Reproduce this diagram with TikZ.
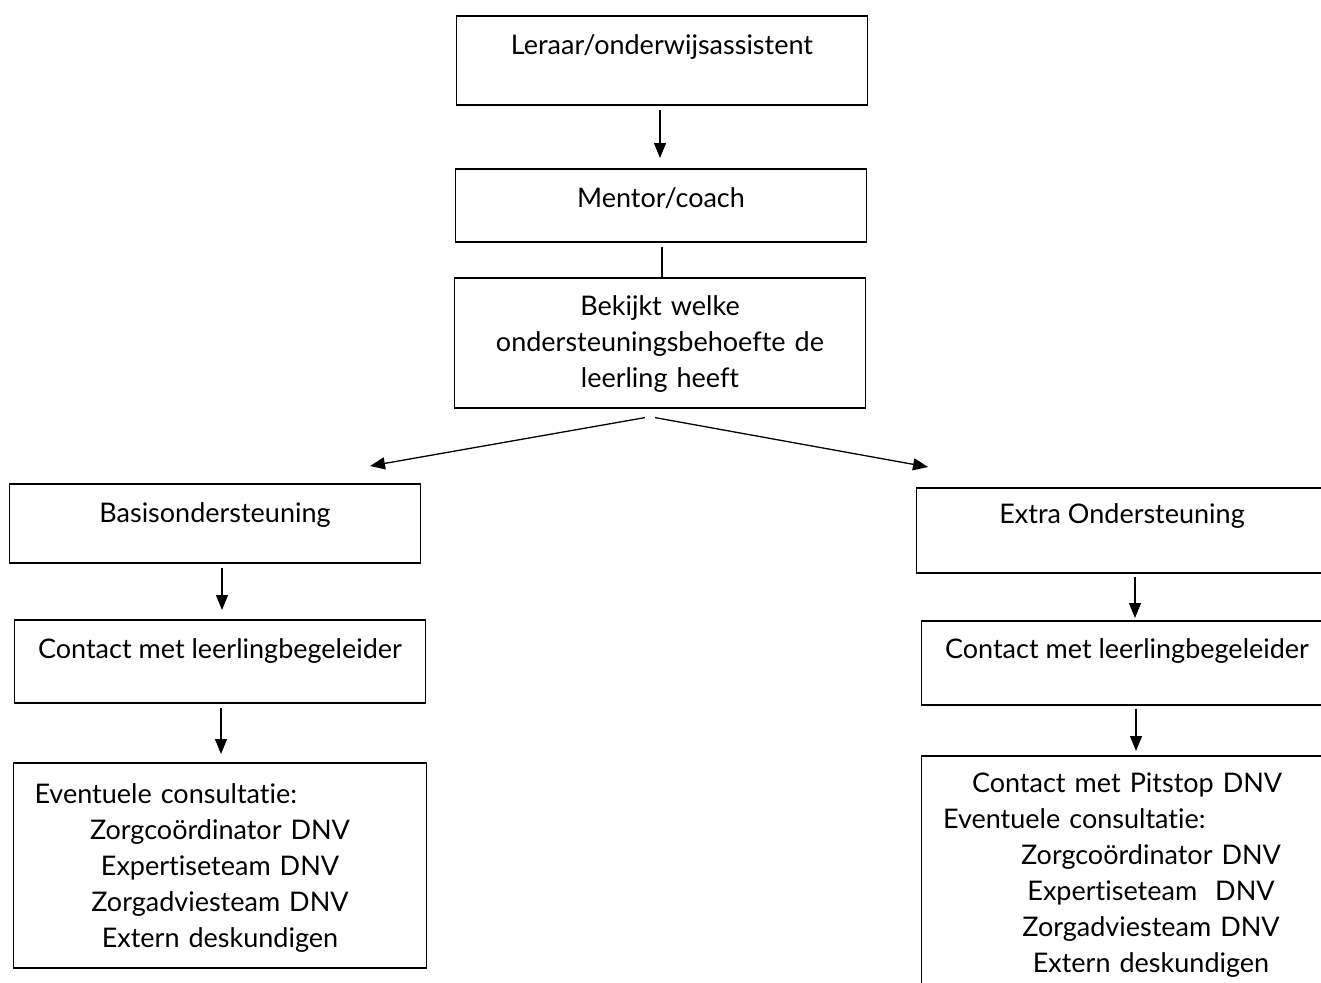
\documentclass[tikz,border=0pt]{standalone}
\usepackage{fontspec}
\setmainfont[Ligatures=NoCommon]{Lato}
\usepackage {tikz}
\usetikzlibrary {arrows.meta,calc}

\begin{document}
\begin{tikzpicture}[x=1pt,y=-1pt]
  \tikzstyle{box}=[draw, line width=1.6pt, inner sep=0pt, anchor=north,
minimum width=411pt, align=center, font=\fontsize{27pt}{36pt}\selectfont]
  \tikzstyle{arr}=[line width=1.3pt, -{Triangle[length=15pt,width=12pt]}]
  \useasboundingbox (0,0) rectangle (1321,982);
  \clip (0,0) rectangle (1321,982);
  \node[box, text height=39pt, text depth=50pt] (N_leraar) at (662,15) {Leraar/onderwijsassistent};
  \node[box, text height=39pt, text depth=34pt] (N_mentor) at (661,168) {Mentor/coach};
  \node[box, text width=411pt, text height=38pt, text depth=92pt] (N_bekijkt) at (660,277)
    {Bekijkt welke\\ ondersteuningsbehoefte de\\ leerling heeft};
  \node[box, text height=39pt, text depth=40pt] (N_basis) at (215,483) {Basisondersteuning};
  \node[box, text height=36pt, text depth=49pt] (N_extra) at (1122,487) {Extra Ondersteuning};
  \node[box, text height=39pt, text depth=44pt] (N_contact1) at (220,619) {Contact met leerlingbegeleider};
  \node[box, text height=38pt, text depth=46pt] (N_contact2) at (1127,620) {Contact met leerlingbegeleider};
  \node[box, align=left, inner xsep=21pt, text width=371pt, text height=41pt, text depth=164pt]
    (N_consult1) at (220,762) {Eventuele consultatie:\\
    \makebox[\linewidth]{Zorgco\"ordinator DNV}\\
    \makebox[\linewidth]{Expertiseteam DNV}\\
    \makebox[\linewidth]{Zorgadviesteam DNV}\\
    \makebox[\linewidth]{Extern deskundigen}};
  \node[box, align=left, inner xsep=21pt, text width=368pt, text height=37pt, text depth=208pt]
    (N_consult2) at (1127,755) {\hspace*{29pt}Contact met Pitstop DNV\\
    Eventuele consultatie:\\
    \makebox[\linewidth]{\hspace*{48pt}Zorgco\"ordinator DNV}\\
    \makebox[\linewidth]{\hspace*{48pt}Expertiseteam\ \ DNV}\\
    \makebox[\linewidth]{\hspace*{48pt}Zorgadviesteam DNV}\\
    \makebox[\linewidth]{\hspace*{48pt}Extern deskundigen}};

  \draw[arr] ($(N_leraar.south)+(-2,4)$) -- ($(N_mentor.north)+(-1,-10)$);
  \draw[line width=1.3pt] ($(N_mentor.south)+(1,4)$) -- ($(N_bekijkt.north)+(2,0)$);
  \draw[arr] ($(N_bekijkt.south)+(-15,9)$) -- ($(N_basis.north)+(155,-17)$);
  \draw[arr] ($(N_bekijkt.south)+(-5,9)$) -- ($(N_extra.north)+(-194,-20)$);
  \draw[arr] ($(N_basis.south)+(7,4)$) -- ($(N_contact1.north)+(2,-9)$);
  \draw[arr] ($(N_contact1.south)+(1,4)$) -- ($(N_consult1.north)+(1,-8)$);
  \draw[arr] ($(N_extra.south)+(13,3)$) -- ($(N_contact2.north)+(8,-2)$);
  \draw[arr] ($(N_contact2.south)+(9,3)$) -- ($(N_consult2.north)+(9,-4)$);
\end{tikzpicture}
\end{document}
